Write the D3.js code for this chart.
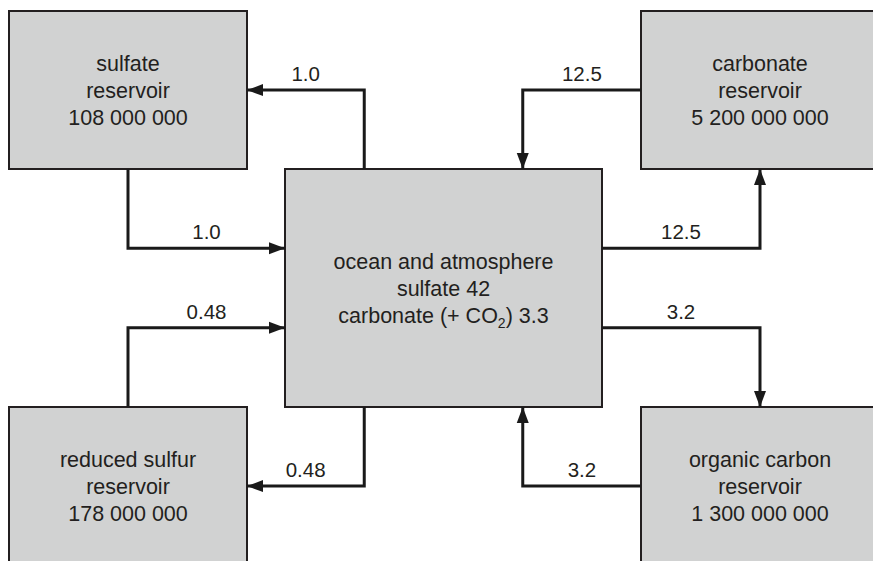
<!DOCTYPE html>
<html>
<head>
<meta charset="utf-8">
<script src="https://cdn.jsdelivr.net/npm/d3@7"></script>
<style>
  html, body { margin: 0; padding: 0; background: #ffffff; }
  svg { display: block; }
  text { font-family: "Liberation Sans", Arial, Helvetica, sans-serif; fill: #231f20; }
</style>
</head>
<body>
<svg id="chart" width="873" height="561"></svg>
<script>
// ---- data ----
const reservoirIds   = ["sulfate", "carbonate", "ocean", "reduced", "organic"];
const reservoirCols  = ["left", "right", "center", "left", "right"];
const reservoirRows  = ["top", "top", "middle", "bottom", "bottom"];
const reservoirLines = [
  ["sulfate", "reservoir", "108 000 000"],
  ["carbonate", "reservoir", "5 200 000 000"],
  ["ocean and atmosphere", "sulfate 42", "carbonate (+ CO2) 3.3"],
  ["reduced sulfur", "reservoir", "178 000 000"],
  ["organic carbon", "reservoir", "1 300 000 000"]
];
const flowFrom   = ["sulfate", "ocean", "carbonate", "ocean", "reduced", "ocean", "organic", "ocean"];
const flowTo     = ["ocean", "sulfate", "ocean", "carbonate", "ocean", "reduced", "ocean", "organic"];
const flowValues = ["1.0", "1.0", "12.5", "12.5", "0.48", "0.48", "3.2", "3.2"];

// ---- layout ----
const svg = d3.select("#chart");
const cols = d3.scalePoint().domain(["left", "center", "right"]).range([128, 760]);
const rows = d3.scalePoint().domain(["top", "middle", "bottom"]).range([90, 486]);
const colCenter = c => c === "center" ? 443.5 : cols(c);
const sideW = 238, sideH = 158, midW = 317, midH = 238;

const boxes = reservoirIds.map((id, i) => {
  const cx = colCenter(reservoirCols[i]);
  const cy = rows(reservoirRows[i]);
  const w = id === "ocean" ? midW : sideW;
  const h = id === "ocean" ? midH : sideH;
  return {id, cx, cy, w, h, x0: cx - w / 2, x1: cx + w / 2, y0: cy - h / 2, y1: cy + h / 2, lines: reservoirLines[i]};
});
const B = Object.fromEntries(boxes.map(b => [b.id, b]));

// defs: arrowhead
svg.append("defs").append("marker")
  .attr("id", "arrow").attr("markerUnits", "userSpaceOnUse")
  .attr("viewBox", "0 -7 16 14").attr("refX", 16).attr("refY", 0)
  .attr("markerWidth", 16).attr("markerHeight", 14).attr("orient", "auto")
  .append("path").attr("d", "M0,-6L16,0L0,6Z").attr("fill", "#1a1a1a");

// boxes
svg.append("g").selectAll("rect").data(boxes).join("rect")
  .attr("x", d => d.x0).attr("y", d => d.y0)
  .attr("width", d => d.w).attr("height", d => d.h)
  .attr("fill", "#d1d2d2").attr("stroke", "#231f20").attr("stroke-width", 2);

// box texts
const lineGap = 27;
boxes.forEach(b => {
  b.lines.forEach((ln, k) => {
    const t = svg.append("text")
      .attr("x", b.cx).attr("y", b.cy + (k - 1) * lineGap + 8)
      .attr("text-anchor", "middle").attr("font-size", 21.5);
    if (ln.includes("CO2")) {
      const parts = ln.split("CO2");
      t.append("tspan").text(parts[0] + "CO");
      t.append("tspan").attr("font-size", 14).attr("dy", 5).text("2");
      t.append("tspan").attr("dy", -5).text(parts[1]);
    } else {
      t.text(ln);
    }
  });
});

// flow routing
const O = B.ocean;
const qx = O.w / 4, ty = O.h / 3;
function route(from, to) {
  const f = B[from], t = B[to];
  if (to === "ocean") {
    if (f.cx < O.cx) {
      const y = f.cy < O.cy ? O.y0 + ty : O.y1 - ty;
      const ys = f.cy < O.cy ? f.y1 : f.y0;
      return [[f.cx, ys], [f.cx, y], [O.x0, y]];
    } else {
      const x = O.cx + qx;
      const ye = f.cy < O.cy ? O.y0 : O.y1;
      return [[f.x0, f.cy], [x, f.cy], [x, ye]];
    }
  } else {
    if (t.cx < O.cx) {
      const x = O.cx - qx;
      const ys = t.cy < O.cy ? O.y0 : O.y1;
      return [[x, ys], [x, t.cy], [t.x1, t.cy]];
    } else {
      const y = t.cy < O.cy ? O.y0 + ty : O.y1 - ty;
      const ye = t.cy < O.cy ? t.y1 : t.y0;
      return [[O.x1, y], [t.cx, y], [t.cx, ye]];
    }
  }
}

const flows = flowFrom.map((f, i) => ({from: f, to: flowTo[i], value: flowValues[i], pts: route(f, flowTo[i])}));
const line = d3.line();
svg.append("g").selectAll("path").data(flows).join("path")
  .attr("d", d => line(d.pts))
  .attr("fill", "none").attr("stroke", "#1a1a1a").attr("stroke-width", 3)
  .attr("marker-end", "url(#arrow)");

// labels at midpoint of horizontal segment
svg.append("g").selectAll("text").data(flows).join("text")
  .attr("x", d => {
    const p = d.pts;
    const h = p[0][1] === p[1][1] ? [p[0], p[1]] : [p[1], p[2]];
    return (h[0][0] + h[1][0]) / 2;
  })
  .attr("y", d => {
    const p = d.pts;
    const y = p[0][1] === p[1][1] ? p[0][1] : p[1][1];
    return y - 9;
  })
  .attr("text-anchor", "middle").attr("font-size", 20.5)
  .text(d => d.value);
</script>
</body>
</html>
